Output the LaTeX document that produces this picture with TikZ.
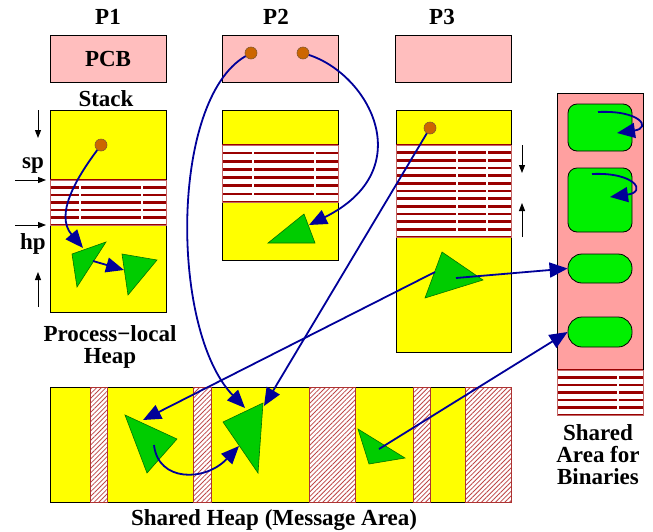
\documentclass[tikz,border=0pt]{standalone}
\usepackage{fontspec}
\setmainfont{Liberation Serif}
\usetikzlibrary{arrows.meta}
\usetikzlibrary{patterns.meta}

\definecolor{memyellow}{RGB}{255,255,0}
\definecolor{pcbpink}{RGB}{255,190,190}
\definecolor{binpink}{RGB}{255,160,160}
\definecolor{stripered}{RGB}{153,0,0}
\definecolor{trigreen}{RGB}{0,204,0}
\definecolor{blobgreen}{RGB}{0,240,0}
\definecolor{ptrblue}{RGB}{0,0,153}
\definecolor{dotbrown}{RGB}{204,102,0}
\definecolor{hatchred}{RGB}{190,70,70}

% striped (free) area: x1, x2, ytop, ybottom, steps, white cuts
\newcommand{\memstripes}[6]{%
  \fill[white] (#1,#3) rectangle (#2,#4);
  \foreach \i in {0,...,#5}
    \draw[stripeline] (#1,{#3+\i*(#4-#3)/#5}) -- (#2,{#3+\i*(#4-#3)/#5});
  \foreach \v in {#6}
    \draw[white,line width=1.2pt] (\v,#3+1.5) -- (\v,#4-1.5);
  \draw[stripered!60,line width=0.6pt] (#1,#3) rectangle (#2,#4);
}

\begin{document}
\begin{tikzpicture}[x=1pt,y=-1pt,
    font=\fontsize{23}{22}\selectfont\bfseries,
    lbl/.style={inner sep=0pt,align=center},
    pcbbox/.style={draw=black,fill=pcbpink,line width=1pt,minimum width=116pt,minimum height=47pt,inner sep=0pt},
    membox/.style={draw=black,line width=1pt},
    stripeline/.style={stripered,line width=2.5pt},
    hatchbox/.style={preaction={fill=white},pattern={Lines[angle=45,distance=3.3pt,line width=0.8pt]},pattern color=hatchred,draw=stripered!80,line width=0.8pt},
    tri/.style={fill=trigreen,draw=green!45!black,line width=0.6pt},
    blob/.style={draw=black,fill=blobgreen,line width=0.8pt,minimum width=64pt,inner sep=0pt},
    dot/.style={circle,fill=dotbrown,draw=brown!70!black,line width=0.6pt,minimum size=12pt,inner sep=0pt},
    ptr/.style={ptrblue,line width=1.8pt,-{Triangle[length=18pt,width=15pt]}},
    growarrow/.style={black,line width=1pt,-{Triangle[length=8pt,width=6pt]}}]
\useasboundingbox (0,0) rectangle (653,531);

% Process labels and PCBs
\node[lbl,anchor=base] (p1lbl) at (108,24) {P1};
\node[lbl,anchor=base] (p2lbl) at (276,24) {P2};
\node[lbl,anchor=base] (p3lbl) at (442,24) {P3};
\node[pcbbox] (pcb1) at (108,58.5) {PCB};
\node[pcbbox] (pcb2) at (280,58.5) {};
\node[pcbbox] (pcb3) at (453.5,58.5) {};
\node[lbl,anchor=base] (stacklbl) at (106,106) {Stack};

% Stack + heap of each process
\draw[membox,fill=memyellow] (50,110) rectangle (166,312);
\memstripes{50}{166}{180}{225}{6}{80,142}
\draw[membox,fill=memyellow] (222,110) rectangle (338,260);
\memstripes{222}{338}{145}{202}{7}{253,315}
\draw[membox,fill=memyellow] (396,110) rectangle (511,352);
\memstripes{396}{511}{145}{237}{12}{457,487}

% stack / heap growth
\draw[growarrow] (38,110) -- (38,138);
\draw[growarrow] (15,180) -- (46,180);
\draw[growarrow] (15,225) -- (46,225);
\draw[growarrow] (38,307) -- (38,272);
\draw[growarrow] (522,145) -- (522,173);
\draw[growarrow] (522,237) -- (522,203);
\node[lbl,anchor=base] (splbl) at (33,168) {sp};
\node[lbl,anchor=base] (hplbl) at (33,249) {hp};
\node[lbl] (loclbl) at (110,347) {Process−local\\Heap};

% Shared heap
\draw[membox,fill=memyellow] (50,387) rectangle (511,502);
\foreach \a/\b in {90/107,193/211,309/355,413/430,465/511}
  \draw[hatchbox] (\a,387) rectangle (\b,502);
\node[lbl,anchor=base] (heaplbl) at (274,525) {Shared Heap (Message Area)};

% Shared area for binaries
\draw[membox,fill=binpink] (557,93) rectangle (643,370);
\memstripes{557}{643}{370}{415}{6}{618}
\node[blob,rounded corners=9pt,minimum height=47pt] (bin1) at (600,127.5) {};
\node[blob,rounded corners=9pt,minimum height=64pt] (bin2) at (600,200) {};
\node[blob,rounded corners=14pt,minimum height=29pt] (bin3) at (600,268.5) {};
\node[blob,rounded corners=14pt,minimum height=30pt] (bin4) at (600,332) {};
\node[lbl] (binlbl) at (598,454.5) {Shared\\Area for\\Binaries};

% Message objects
\draw[tri] (72,254) -- (106,242) -- (77,287) -- cycle;
\draw[tri] (122,254) -- (157,260) -- (128,295) -- cycle;
\draw[tri] (268,243) -- (304,214) -- (315,243) -- cycle;
\draw[tri] (442,252) -- (483,280) -- (425,298) -- cycle;
\draw[tri] (125,415) -- (177,439) -- (147,473) -- cycle;
\draw[tri] (223,422) -- (263,403) -- (258,473) -- cycle;
\draw[tri] (358,429) -- (405,458) -- (369,464) -- cycle;

% Roots
\node[dot] (p1dot) at (101,145) {};
\node[dot] (p2dotl) at (251,53) {};
\node[dot] (p2dotr) at (303,53) {};
\node[dot] (p3dot) at (430,128) {};

% Pointer end points
\coordinate (t1in) at (83,248);
\coordinate (t1out) at (93,261);
\coordinate (t2in) at (124,270);
\coordinate (t3in) at (309,225);
\coordinate (t4a) at (435,272);
\coordinate (t4b) at (456,278);
\coordinate (tAin) at (143,420);
\coordinate (tAout) at (154,445);
\coordinate (tBin1) at (245,408);
\coordinate (tBin2) at (264,406);
\coordinate (tBin3) at (239,446);
\coordinate (tCout) at (379,449);
\coordinate (b1s) at (598,112);
\coordinate (b1e) at (617,133);
\coordinate (b2s) at (592,174);
\coordinate (b2e) at (610,197);

% Pointers
\draw[ptr] (p1dot) .. controls (75,180) and (55,215) .. (t1in);
\draw[ptr] (t1out) -- (t2in);
\draw[ptr] (p2dotr) .. controls (370,75) and (420,170) .. (t3in);
\draw[ptr] (p2dotl) .. controls (170,100) and (170,330) .. (tBin1);
\draw[ptr] (p3dot) -- (tBin2);
\draw[ptr] (t4a) -- (tAin);
\draw[ptr] (t4b) -- (bin3.west);
\draw[ptr] (tAout) .. controls (158,482) and (205,482) .. (tBin3);
\draw[ptr] (tCout) -- (bin4.west);
\draw[ptr] (b1s) .. controls (640,110) and (652,128) .. (b1e);
\draw[ptr] (b2s) .. controls (635,172) and (647,192) .. (b2e);

\end{tikzpicture}
\end{document}
